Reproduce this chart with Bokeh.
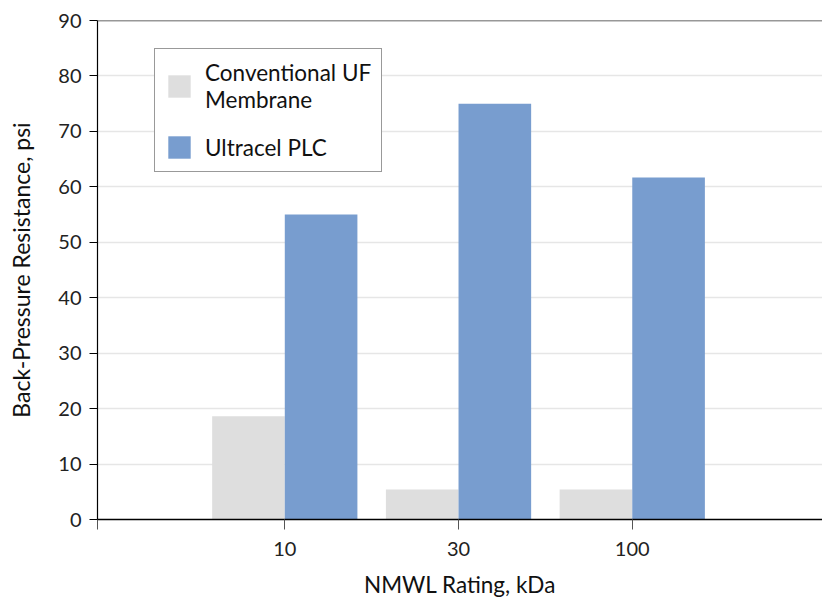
from bokeh.plotting import figure
from bokeh.models import ColumnDataSource, FixedTicker, Legend, LegendItem, Span, Range1d
from bokeh.transform import dodge
from bokeh.embed import file_html
from bokeh.resources import INLINE

# ---- data ----
categories = ["10", "30", "100"]
conventional = [18.6, 5.4, 5.4]
ultracel = [55, 75, 61.7]
series_names = ["Conventional UF\nMembrane", "Ultracel PLC"]
series_colors = ["#dedede", "#789dcf"]
y_ticks = [0, 10, 20, 30, 40, 50, 60, 70, 80, 90]
x_title = "NMWL Rating, kDa"
y_title = "Back-Pressure Resistance, psi"

FONT = "Lato"
x_pos = [i + 1 for i in range(len(categories))]
bar_w = 0.418
x_start = -0.078
x_end = 4.095

src = ColumnDataSource(dict(x=x_pos, conv=conventional, ultra=ultracel))

p = figure(width=822, height=601, output_backend="svg", toolbar_location=None,
           x_range=Range1d(x_start, x_end), y_range=Range1d(y_ticks[0], y_ticks[-1]),
           min_border_left=97, min_border_top=20, min_border_bottom=82,
           min_border_right=0)
p.outline_line_color = None
p.background_fill_color = "white"

r1 = p.vbar(x=dodge("x", -bar_w / 2, range=p.x_range), top="conv", width=bar_w,
            source=src, fill_color=series_colors[0], line_color=None)
r2 = p.vbar(x=dodge("x", bar_w / 2, range=p.x_range), top="ultra", width=bar_w,
            source=src, fill_color=series_colors[1], line_color=None)

# grid
p.xgrid.grid_line_color = None
p.ygrid.grid_line_color = "#e6e6e6"
p.ygrid.grid_line_width = 1.5
p.ygrid.ticker = FixedTicker(ticks=y_ticks)

# top border line
p.add_layout(Span(location=y_ticks[-1], dimension="width", line_color="#333333", line_width=1.5))

# y axis
ya = p.yaxis[0]
ya.ticker = FixedTicker(ticks=y_ticks)
ya.axis_line_color = "black"
ya.axis_line_width = 1.2
ya.major_tick_out = 8
ya.major_tick_in = 0
ya.major_tick_line_color = "black"
ya.minor_tick_line_color = None
ya.major_label_text_font = FONT
ya.major_label_text_font_size = "20px"
ya.major_label_text_color = "#222222"
ya.major_label_standoff = 8
ya.axis_label = y_title
ya.axis_label_text_font = FONT
ya.axis_label_text_font_size = "23px"
ya.axis_label_text_font_style = "normal"
ya.axis_label_text_color = "#111111"
ya.axis_label_standoff = 20

# x axis
xa = p.xaxis[0]
xa.ticker = FixedTicker(ticks=[x_start] + x_pos)
overrides = {x_start: ""}
for xp, c in zip(x_pos, categories):
    overrides[xp] = c
xa.major_label_overrides = overrides
xa.axis_line_color = "black"
xa.axis_line_width = 1.5
xa.major_tick_out = 10
xa.major_tick_in = 0
xa.major_tick_line_color = "#555555"
xa.minor_tick_line_color = None
xa.major_label_text_font = FONT
xa.major_label_text_font_size = "20px"
xa.major_label_text_color = "#222222"
xa.major_label_standoff = 12
xa.axis_label = x_title
xa.axis_label_text_font = FONT
xa.axis_label_text_font_size = "22.5px"
xa.axis_label_text_font_style = "normal"
xa.axis_label_text_color = "#111111"
xa.axis_label_standoff = 12

legend = Legend(items=[LegendItem(label=series_names[0], renderers=[r1]),
                       LegendItem(label=series_names[1], renderers=[r2])],
                location=(57, 347))
legend.border_line_color = "#333333"
legend.border_line_width = 1
legend.padding = 10
legend.margin = 0
legend.spacing = 20
legend.glyph_width = 28
legend.glyph_height = 28
legend.label_standoff = 12
legend.label_text_font = FONT
legend.label_text_font_size = "22.5px"
legend.label_text_color = "#111111"
legend.label_text_line_height = 0.85
legend.background_fill_color = "white"
legend.background_fill_alpha = 1
p.add_layout(legend)

open("out.html", "w").write(file_html(p, INLINE))
